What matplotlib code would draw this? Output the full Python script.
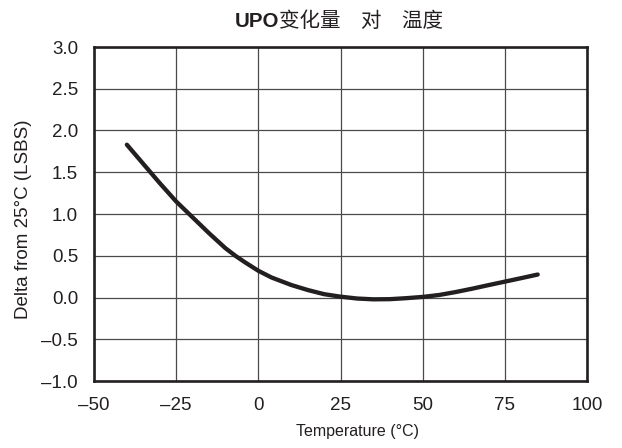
import matplotlib
matplotlib.use("Agg")
import matplotlib.pyplot as plt

plt.rcParams['font.family'] = ['Liberation Sans', 'DejaVu Sans']

# UPO drift vs temperature
temp_c = [-40, -35, -30, -25, -20, -15, -10, -7, -4, 0, 4, 10, 15, 20, 25,
          30, 35, 40, 45, 50, 55, 60, 65, 70, 75, 80, 85]
delta_lsb = [1.83, 1.60, 1.37, 1.15, 0.96, 0.77, 0.59, 0.50, 0.42, 0.32, 0.24, 0.15, 0.09, 0.04, 0.01,
             -0.012, -0.022, -0.02, -0.008, 0.007, 0.03, 0.065, 0.105, 0.148, 0.19, 0.232, 0.275]

x_ticks = [-50, -25, 0, 25, 50, 75, 100]
x_labels = ['–50', '–25', '0', '25', '50', '75', '100']
y_ticks = [-1.0, -0.5, 0.0, 0.5, 1.0, 1.5, 2.0, 2.5, 3.0]
y_labels = ['–1.0', '–0.5', '0.0', '0.5', '1.0', '1.5', '2.0', '2.5', '3.0']

W, H = 622, 448
fig = plt.figure(figsize=(W / 100, H / 100), dpi=100)
ax = fig.add_axes([94 / W, 1 - 381 / H, (587 - 94) / W, (381 - 47) / H])

ax.plot(temp_c, delta_lsb, color='#231f20', lw=3.1, solid_capstyle='round',
        solid_joinstyle='round', zorder=3)

ax.set_xlim(-50, 100)
ax.set_ylim(-1.0, 3.0)
ax.set_xticks(x_ticks)
ax.set_xticklabels(x_labels)
ax.set_yticks(y_ticks)
ax.set_yticklabels(y_labels)
ax.tick_params(length=0, pad=11.5, labelsize=13.5, colors='#231f20')
ax.grid(True, color='#4a4a4a', lw=0.9)
for sp in ax.spines.values():
    sp.set_linewidth(1.9)
    sp.set_color('#231f20')

ax.set_xlabel('Temperature (°C)', fontsize=11.5, color='#231f20')
ax.xaxis.set_label_coords(0.535, -0.128)
ax.set_ylabel('Delta from 25°C (LSBS)', fontsize=13.5, color='#231f20')
ax.yaxis.set_label_coords(-0.125, 0.485)

# title: bold latin part followed by regular CJK part, centred as one line
title_y = 1 - 27 / H
t1 = fig.text(0, title_y, 'UPO', fontsize=14.8, fontweight='bold', color='#231f20',
              va='baseline', ha='left')
t2 = fig.text(0, title_y, '变化量　对　温度', fontsize=14.8, color='#231f20',
              va='baseline', ha='left', family=['Noto Sans CJK SC', 'DejaVu Sans'])
r = fig.canvas.get_renderer()
w1 = t1.get_window_extent(r).width
w2 = t2.get_window_extent(r).width
x0 = 339 - (w1 + w2) / 2
t1.set_x(x0 / W)
t2.set_x((x0 + w1) / W)

fig.savefig('out.png', dpi=100)
